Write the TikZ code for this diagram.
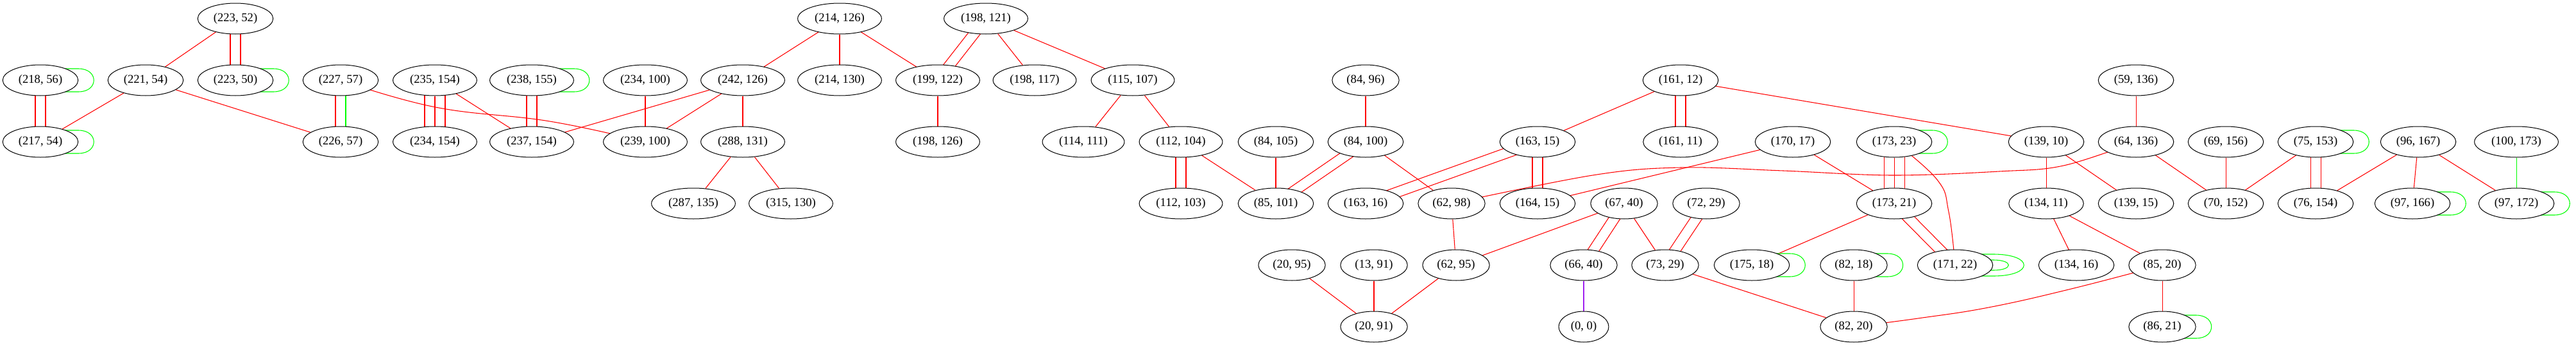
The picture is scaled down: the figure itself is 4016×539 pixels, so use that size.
\documentclass[tikz,border=0pt]{standalone}
\usepackage{fontspec}
\setmainfont{Liberation Serif}
\usetikzlibrary{shapes.geometric,calc}
\definecolor{pcol}{HTML}{A020F0}
\pgfdeclarelayer{bg}
\pgfsetlayers{bg,main}
\tikzset{
  nd/.style={ellipse, draw=black, fill=white, line width=0.75pt, inner xsep=5.5pt, inner ysep=2pt, minimum height=36pt, font=\fontsize{14}{16}\selectfont},
  re/.style={draw=red, line width=0.8pt},
  gr/.style={draw=green, line width=0.8pt},
  pu/.style={draw=pcol, line width=0.8pt}
}
% parallel edge: style, a, b, distance, angle, angle at b
\newcommand\paredge[6]{\draw[#1] ($(#2)!#4!#5:(#3)$) -- ($(#3)!#4!#6:(#2)$);}
\newcommand\dbl[2]{\paredge{re}{#1}{#2}{6pt}{90}{-90}\paredge{re}{#1}{#2}{6pt}{-90}{90}}
\newcommand\trp[2]{\paredge{re}{#1}{#2}{12pt}{90}{-90}\draw[re] (#1) -- (#2);\paredge{re}{#1}{#2}{12pt}{-90}{90}}
\newcommand\selfloop[3]{\draw[gr] ([yshift=#2]#1.center) -- ([yshift=#2]#1.east) .. controls +(#3,0pt) and +(#3,0pt) .. ([yshift=-#2]#1.east) -- ([yshift=-#2]#1.center);}
\newcommand\gn[3]{\node[nd] (#1) at (#2) {#3};}
\begin{document}
\begin{tikzpicture}[x=0.75pt,y=-0.75pt]
\useasboundingbox (0,0) rectangle (4016,539);
% nodes
\gn{n223_52}{367,29}{(223, 52)}
\gn{n218_56}{63,125}{(218, 56)}
\gn{n221_54}{227,125}{(221, 54)}
\gn{n223_50}{367,125}{(223, 50)}
\gn{n227_57}{531,125}{(227, 57)}
\gn{n217_54}{63,221}{(217, 54)}
\gn{n226_57}{531,221}{(226, 57)}
\gn{n235_154}{678,125}{(235, 154)}
\gn{n238_155}{829,125}{(238, 155)}
\gn{n234_100}{1006,125}{(234, 100)}
\gn{n242_126}{1158,125}{(242, 126)}
\gn{n234_154}{678,221}{(234, 154)}
\gn{n237_154}{829,221}{(237, 154)}
\gn{n239_100}{1006,221}{(239, 100)}
\gn{n288_131}{1158,221}{(288, 131)}
\gn{n287_135}{1081,317}{(287, 135)}
\gn{n315_130}{1233,317}{(315, 130)}
\gn{n214_126}{1309,29}{(214, 126)}
\gn{n198_121}{1537,29}{(198, 121)}
\gn{n214_130}{1309,125}{(214, 130)}
\gn{n199_122}{1462,125}{(199, 122)}
\gn{n198_117}{1613,125}{(198, 117)}
\gn{n115_107}{1766,125}{(115, 107)}
\gn{n198_126}{1462,221}{(198, 126)}
\gn{n114_111}{1689,221}{(114, 111)}
\gn{n112_104}{1841,221}{(112, 104)}
\gn{n84_105}{1989,221}{(84, 105)}
\gn{n84_96}{2129,125}{(84, 96)}
\gn{n84_100}{2129,221}{(84, 100)}
\gn{n163_15}{2397,221}{(163, 15)}
\gn{n112_103}{1841,317}{(112, 103)}
\gn{n85_101}{1989,317}{(85, 101)}
\gn{n163_16}{2129,317}{(163, 16)}
\gn{n62_98}{2263,317}{(62, 98)}
\gn{n164_15}{2397,317}{(164, 15)}
\gn{n20_95}{2014,413}{(20, 95)}
\gn{n13_91}{2142,413}{(13, 91)}
\gn{n62_95}{2270,413}{(62, 95)}
\gn{n20_91}{2142,509}{(20, 91)}
\gn{n161_12}{2620,125}{(161, 12)}
\gn{n161_11}{2620,221}{(161, 11)}
\gn{n170_17}{2795,221}{(170, 17)}
\gn{n173_23}{2953,221}{(173, 23)}
\gn{n67_40}{2532,317}{(67, 40)}
\gn{n72_29}{2660,317}{(72, 29)}
\gn{n173_21}{2953,317}{(173, 21)}
\gn{n66_40}{2469,413}{(66, 40)}
\gn{n73_29}{2596,413}{(73, 29)}
\gn{n175_18}{2731,413}{(175, 18)}
\gn{n82_18}{2890,413}{(82, 18)}
\gn{n171_22}{3048,413}{(171, 22)}
\gn{n0_0}{2469,509}{(0, 0)}
\gn{n82_20}{2890,509}{(82, 20)}
\gn{n59_136}{3330,125}{(59, 136)}
\gn{n139_10}{3190,221}{(139, 10)}
\gn{n64_136}{3330,221}{(64, 136)}
\gn{n69_156}{3470,221}{(69, 156)}
\gn{n75_153}{3610,221}{(75, 153)}
\gn{n134_11}{3190,317}{(134, 11)}
\gn{n139_15}{3330,317}{(139, 15)}
\gn{n70_152}{3470,317}{(70, 152)}
\gn{n76_154}{3610,317}{(76, 154)}
\gn{n134_16}{3237,413}{(134, 16)}
\gn{n85_20}{3371,413}{(85, 20)}
\gn{n86_21}{3371,509}{(86, 21)}
\gn{n96_167}{3770,221}{(96, 167)}
\gn{n100_173}{3923,221}{(100, 173)}
\gn{n97_166}{3761,317}{(97, 166)}
\gn{n97_172}{3923,317}{(97, 172)}
% waypoints of curved edges
\coordinate (ca1) at (679,167);
\coordinate (ca2) at (857,189);
\coordinate (cb1) at (2483,273);
\coordinate (cb2) at (2620,261);
\coordinate (cb3) at (2780,266);
\coordinate (cb4) at (2950,273);
\coordinate (cb5) at (3117,267);
\coordinate (cb6) at (3217,258);
\coordinate (cc1) at (3020,280);
\coordinate (cc2) at (3038,330);
\coordinate (cd1) at (3229,450);
\coordinate (cd2) at (3100,479);
\coordinate (cd3) at (2990,496);
\begin{pgfonlayer}{bg}
% single red edges
\foreach \a/\b in {n223_52/n221_54, n221_54/n217_54, n221_54/n226_57, n235_154/n237_154,
  n234_100/n239_100, n242_126/n237_154, n242_126/n239_100, n242_126/n288_131,
  n288_131/n287_135, n288_131/n315_130, n214_126/n242_126, n214_126/n214_130,
  n214_126/n199_122, n198_121/n198_117, n198_121/n115_107, n199_122/n198_126,
  n115_107/n114_111, n115_107/n112_104, n112_104/n85_101, n84_105/n85_101,
  n84_96/n84_100, n84_100/n62_98, n161_12/n163_15, n62_98/n62_95, n67_40/n62_95,
  n20_95/n20_91, n13_91/n20_91, n62_95/n20_91, n161_12/n139_10, n170_17/n164_15,
  n170_17/n173_21, n173_21/n175_18, n82_18/n82_20, n67_40/n73_29, n73_29/n82_20,
  n59_136/n64_136, n139_10/n134_11, n139_10/n139_15, n64_136/n70_152,
  n69_156/n70_152, n75_153/n70_152, n96_167/n76_154, n134_11/n134_16,
  n134_11/n85_20, n85_20/n86_21, n96_167/n97_166, n96_167/n97_172}
  {\draw[re] (\a) -- (\b);}
\draw[gr] (n100_173) -- (n97_172);
\draw[pu] (n66_40) -- (n0_0);
% double edges
\dbl{n223_52}{n223_50}
\dbl{n218_56}{n217_54}
\dbl{n198_121}{n199_122}
\dbl{n112_104}{n112_103}
\dbl{n84_100}{n85_101}
\dbl{n163_15}{n163_16}
\dbl{n163_15}{n164_15}
\dbl{n161_12}{n161_11}
\dbl{n67_40}{n66_40}
\dbl{n72_29}{n73_29}
\dbl{n173_21}{n171_22}
\dbl{n75_153}{n76_154}
\dbl{n238_155}{n237_154}
\paredge{re}{n227_57}{n226_57}{6pt}{-90}{90}
\paredge{gr}{n227_57}{n226_57}{6pt}{90}{-90}
% triple edges
\trp{n235_154}{n234_154}
\trp{n173_23}{n173_21}
% curved edges
\draw[re] plot[smooth, tension=0.7] coordinates {(n227_57.center) (ca1) (ca2) (n239_100.center)};
\draw[re] plot[smooth, tension=0.6] coordinates {(n62_98.center) (cb1) (cb2) (cb3) (cb4) (cb5) (cb6) (n64_136.center)};
\draw[re] plot[smooth, tension=0.7] coordinates {(n173_23.center) (cc1) (cc2) (n171_22.center)};
\draw[re] plot[smooth, tension=0.7] coordinates {(n85_20.center) (cd1) (cd2) (cd3) (n82_20.center)};
% self loops
\foreach \n in {n218_56, n223_50, n217_54, n238_155, n173_23, n175_18, n82_18, n75_153, n86_21, n97_166, n97_172}
  {\selfloop{\n}{13.5pt}{24pt}}
\selfloop{n171_22}{6pt}{24pt}
\selfloop{n171_22}{12.75pt}{48pt}
\end{pgfonlayer}
\end{tikzpicture}
\end{document}
